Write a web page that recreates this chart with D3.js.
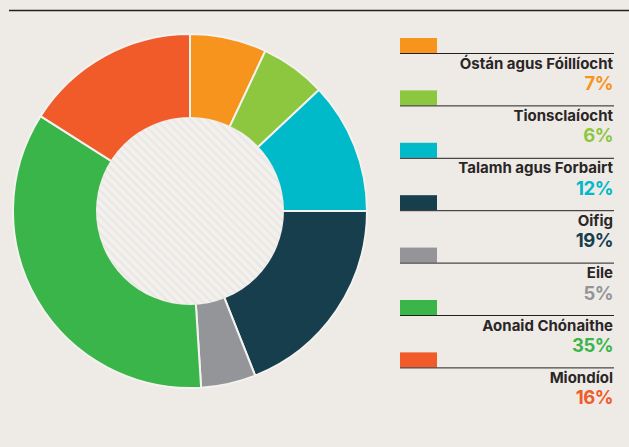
<!DOCTYPE html>
<html>
<head>
<meta charset="utf-8">
<script src="https://cdn.jsdelivr.net/npm/d3@7"></script>
<style>
  body { margin: 0; background: #eeebe7; }
  svg { display: block; font-family: Inter, "Noto Sans", sans-serif; }
</style>
</head>
<body>
<svg id="chart" width="629" height="447"></svg>
<script>
const categories = ["Óstán agus Fóillíocht", "Tionsclaíocht", "Talamh agus Forbairt", "Oifig", "Eile", "Aonaid Chónaithe", "Miondíol"];
const values = [7, 6, 12, 19, 5, 35, 16];
const colors = ["#f7941d", "#8dc63f", "#00b9c9", "#173e4c", "#939598", "#39b54a", "#f15a29"];

const svg = d3.select("#chart");
const width = 629;
const height = 447;

// top rule
svg.append("line")
    .attr("x1", 9).attr("x2", width)
    .attr("y1", 10.5).attr("y2", 10.5)
    .attr("stroke", "#231f20")
    .attr("stroke-width", 1.5);

// stripe pattern for the hole
const defs = svg.append("defs");
const pat = defs.append("pattern")
    .attr("id", "stripes")
    .attr("patternUnits", "userSpaceOnUse")
    .attr("width", 6).attr("height", 6)
    .attr("patternTransform", "rotate(45)");
pat.append("rect").attr("width", 6).attr("height", 6).attr("fill", "#f3f1ee");
pat.append("rect").attr("width", 6).attr("height", 2.5).attr("fill", "#ebe8e4");

const cx = 190, cy = 211;
const outerR = 177, innerR = 94;

const pie = d3.pie().sort(null).value(d => d.value);
const arc = d3.arc().innerRadius(0).outerRadius(outerR);

const data = categories.map((c, i) => ({ name: c, value: values[i], color: colors[i] }));

const g = svg.append("g").attr("transform", `translate(${cx},${cy})`);

g.selectAll("path")
    .data(pie(data))
    .enter()
    .append("path")
    .attr("d", arc)
    .attr("fill", d => d.data.color)
    .attr("stroke", "#f4f2ef")
    .attr("stroke-width", 2);

g.append("circle")
    .attr("r", innerR)
    .attr("fill", "url(#stripes)");

// legend
const y = d3.scalePoint()
    .domain(categories)
    .range([38, 38 + 52.4 * (categories.length - 1)]);

const legend = svg.append("g");
const item = legend.selectAll("g")
    .data(data)
    .enter()
    .append("g")
    .attr("transform", d => `translate(0,${y(d.name)})`);

item.append("rect")
    .attr("x", 400).attr("y", 0)
    .attr("width", 37).attr("height", 15)
    .attr("fill", d => d.color);

item.append("line")
    .attr("x1", 400).attr("x2", 614)
    .attr("y1", 15.5).attr("y2", 15.5)
    .attr("stroke", "#231f20")
    .attr("stroke-width", 1);

item.append("text")
    .attr("x", 613).attr("y", 30.5)
    .attr("text-anchor", "end")
    .attr("font-size", 15)
    .attr("font-weight", 700)
    .attr("fill", "#2b2626")
    .text(d => d.name);

item.append("text")
    .attr("x", 613).attr("y", 52)
    .attr("text-anchor", "end")
    .attr("font-size", 18.5)
    .attr("font-weight", 700)
    .attr("letter-spacing", -0.5)
    .attr("fill", d => d.color)
    .text(d => d.value + "%");
</script>
</body>
</html>
